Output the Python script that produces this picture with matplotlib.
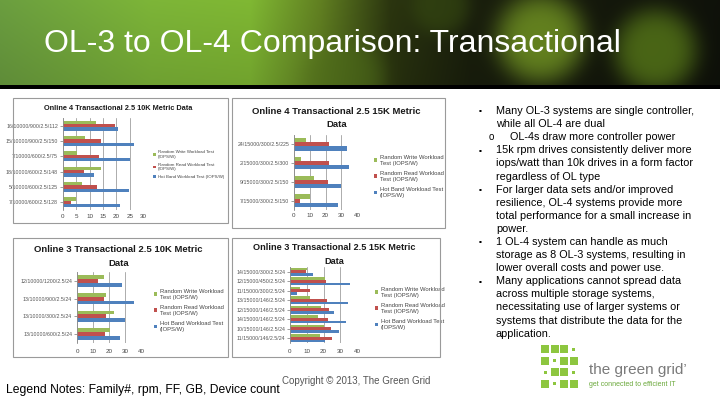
import numpy as np
import matplotlib.pyplot as plt
from matplotlib.patches import Rectangle

plt.rcParams['font.family'] = ['Liberation Sans', 'DejaVu Sans']

W, H = 720, 405

# series colours (Excel 2007 palette)
c_hot, c_read, c_write = '#4F81BD', '#C0504D', '#9BBB59'

# ---- data, categories listed top to bottom as on the slide ----
ol4_10k_cats = ['16/10000/900/2.5/112', '15/10000/900/2.5/150', '7/10000/600/2.5/75',
                '18/10000/600/2.5/148', '5/10000/600/2.5/125', '7/10000/600/2.5/128']
ol4_10k_hot = [20.6, 26.5, 25.3, 11.5, 24.6, 21.5]
ol4_10k_read = [19.4, 14.4, 13.5, 7.8, 12.9, 2.9]
ol4_10k_write = [12.3, 8.1, 5.4, 14.4, 7.0, 5.0]

ol4_15k_cats = ['24/15000/300/2.5/225', '2/15000/300/2.5/300',
                '9/15000/300/2.5/150', '7/15000/300/2.5/150']
ol4_15k_hot = [33.4, 35.1, 29.8, 28.1]
ol4_15k_read = [22.3, 22.3, 21.9, 4.0]
ol4_15k_write = [7.4, 4.7, 13.0, 10.4]

ol3_10k_cats = ['12/10000/1200/2.5/24', '13/10000/900/2.5/24',
                '13/10000/300/2.5/24', '13/10000/600/2.5/24']
ol3_10k_hot = [28.3, 35.8, 30.2, 27.0]
ol3_10k_read = [12.9, 16.7, 17.9, 17.5]
ol3_10k_write = [16.7, 18.3, 23.3, 20.8]

ol3_15k_cats = ['14/15000/300/2.5/24', '12/15000/450/2.5/24', '11/15000/300/2.5/24',
                '13/15000/146/2.5/24', '12/15000/146/2.5/24', '14/15000/146/2.5/24',
                '10/15000/146/2.5/24', '11/15000/146/2.5/24']
ol3_15k_hot = [14.0, 36.0, 4.0, 34.6, 26.0, 33.4, 29.0, 20.6]
ol3_15k_read = [9.6, 21.4, 12.0, 22.0, 23.2, 22.4, 24.4, 25.2]
ol3_15k_write = [10.4, 21.0, 6.0, 12.0, 18.4, 16.6, 20.0, 18.0]

t1 = ['Online 4 Transactional 2.5 10K Metric Data']
t2 = ['Online 4 Transactional 2.5 15K Metric', 'Data']
t3 = ['Online 3 Transactional 2.5 10K Metric', 'Data']
t4 = ['Online 3 Transactional 2.5 15K Metric', 'Data']

lab_a = ['Random Write Workload Test\n(IOPS/W)', 'Random Read Workload Test\n(IOPS/W)',
         'Hot Band Workload Test (IOPS/W)']
lab_b = ['Random Write Workload\nTest (IOPS/W)', 'Random Read Workload\nTest (IOPS/W)',
         'Hot Band Workload Test\n(IOPS/W)']

bullet_lines = [
    ('b', 'Many OL-3 systems are single controller,'),
    ('', 'while all OL-4 are dual'),
    ('o', 'OL-4s draw more controller power'),
    ('b', '15k rpm drives consistently deliver more'),
    ('', 'iops/watt than 10k drives in a form factor'),
    ('', 'regardless of OL type'),
    ('b', 'For larger data sets and/or improved'),
    ('', 'resilience, OL-4 systems provide more'),
    ('', 'total performance for a small increase in'),
    ('', 'power.'),
    ('b', '1 OL-4 system can handle as much'),
    ('', 'storage as 8 OL-3 systems, resulting in'),
    ('', 'lower overall costs and power use.'),
    ('b', 'Many applications cannot spread data'),
    ('', 'across multiple storage systems,'),
    ('', 'necessitating use of larger systems or'),
    ('', 'systems that distribute the data for the'),
    ('', 'application.'),
]


def fx(x):
    return x / W


def fy(y):
    return 1 - y / H


fig = plt.figure(figsize=(7.2, 4.05), dpi=100)
fig.patch.set_facecolor('white')

# ---- header banner (decorative gradient with soft bokeh blobs) ----
hh = 89
xs = np.arange(W)
ys = np.arange(hh)[:, None]
stops = [0, 150, 250, 320, 390, 470, 720]
rs = [0.42, 0.49, 0.50, 0.38, 0.17, 0.10, 0.06]
gs = [0.62, 0.71, 0.72, 0.50, 0.21, 0.12, 0.07]
bs = [0.25, 0.22, 0.20, 0.13, 0.06, 0.05, 0.04]
img = np.zeros((hh, W, 3))
img[:, :, 0] = np.interp(xs, stops, rs)
img[:, :, 1] = np.interp(xs, stops, gs)
img[:, :, 2] = np.interp(xs, stops, bs)
img = img * (1 - 0.12 * (ys / hh))[:, :, None]
for cx, cy, r, col, k in [(540, 38, 45, (0.46, 0.60, 0.14), 0.8),
                          (655, 50, 42, (0.36, 0.50, 0.10), 0.75),
                          (440, 5, 30, (0.22, 0.30, 0.07), 0.6),
                          (345, 78, 40, (0.30, 0.42, 0.10), 0.6)]:
    d = np.sqrt((xs[None, :] - cx) ** 2 + (ys - cy) ** 2) / r
    a = np.exp(-(d ** 4))[:, :, None] * k
    img = img * (1 - a) + np.array(col) * a
img[85:, :, :] = 0
hax = fig.add_axes([0, fy(hh), 1, hh / H])
hax.imshow(img, aspect='auto', interpolation='bilinear')
hax.axis('off')
fig.text(fx(44), fy(44), 'OL-3 to OL-4 Comparison: Transactional', color='white',
         fontsize=23, va='center', ha='left')


def chart(box, plot, titles, title_ys, title_size, cats, hot, read, write, xmax,
          xstep, labels, leg_xy, leg_size, bar_h, tick_pad):
    x0, y0, x1, y1 = box
    fig.add_artist(Rectangle((fx(x0), fy(y1)), (x1 - x0) / W, (y1 - y0) / H,
                             transform=fig.transFigure, fill=False,
                             ec='#9a9a9a', lw=0.8))
    px0, py0, px1, py1 = plot
    ax = fig.add_axes([fx(px0), fy(py1), (px1 - px0) / W, (py1 - py0) / H])
    n = len(cats)
    pos = np.arange(n)[::-1]
    bh = ax.barh(pos - bar_h, hot, height=bar_h, color=c_hot)
    br = ax.barh(pos, read, height=bar_h, color=c_read)
    bw = ax.barh(pos + bar_h, write, height=bar_h, color=c_write)
    ax.set_ylim(-0.5, n - 0.5)
    ax.set_xlim(0, xmax)
    ax.set_xticks(np.arange(0, xmax + 1, xstep))
    ax.set_yticks(pos)
    ax.set_yticklabels(cats)
    ax.xaxis.grid(True, color='#8c8c8c', lw=0.5)
    ax.set_axisbelow(True)
    for s in ['top', 'right', 'bottom']:
        ax.spines[s].set_visible(False)
    ax.spines['left'].set_color('#8c8c8c')
    ax.spines['left'].set_linewidth(0.6)
    ax.tick_params(axis='x', labelsize=4.5, length=0, pad=tick_pad, colors='#444444')
    ax.tick_params(axis='y', labelsize=3.8, length=2, width=0.4, pad=1.5,
                   colors='#555555')
    for t, ty in zip(titles, title_ys):
        fig.text(fx((x0 + x1) / 2 - 2), fy(ty), t, fontsize=title_size,
                 fontweight='bold', ha='center', va='center', color='#1a1a1a')
    ax.legend([bw, br, bh], labels, loc='upper left',
              bbox_to_anchor=(fx(leg_xy[0]), fy(leg_xy[1])),
              bbox_transform=fig.transFigure, frameon=False, fontsize=leg_size,
              handlelength=0.6, handleheight=0.6, handletextpad=0.4,
              labelspacing=0.9, borderpad=0, labelcolor='#444444')
    return ax


chart((13, 98, 228, 223), (63, 118, 143, 210), t1, [108], 5.3,
      ol4_10k_cats, ol4_10k_hot, ol4_10k_read, ol4_10k_write, 30, 5,
      lab_a, (151, 148), 3.2, 0.22, 3)
chart((232, 98, 445, 228), (294, 135, 357, 210), t2, [111, 124], 6.8,
      ol4_15k_cats, ol4_15k_hot, ol4_15k_read, ol4_15k_write, 40, 10,
      lab_b, (371, 152), 4.2, 0.22, 2)
chart((13, 238, 228, 357), (77, 272, 141, 343), t3, [250, 263], 6.8,
      ol3_10k_cats, ol3_10k_hot, ol3_10k_read, ol3_10k_write, 40, 10,
      lab_b, (151, 286), 4.2, 0.22, 4)
chart((232, 238, 440, 357), (290, 267, 357, 343), t4, [248, 261], 6.6,
      ol3_15k_cats, ol3_15k_hot, ol3_15k_read, ol3_15k_write, 40, 10,
      lab_b, (372, 284), 4.2, 0.27, 4)

# ---- right hand bullet text ----
for i, (kind, line) in enumerate(bullet_lines):
    y = 111 + i * 13.1
    if kind == 'b':
        fig.text(fx(480), fy(y), '\u25aa', fontsize=6, va='center', ha='center')
        fig.text(fx(496), fy(y), line, fontsize=7.8, va='center')
    elif kind == 'o':
        fig.text(fx(491), fy(y), 'o', fontsize=7, va='center', ha='center')
        fig.text(fx(510), fy(y), line, fontsize=7.8, va='center')
    else:
        fig.text(fx(496), fy(y), line, fontsize=7.8, va='center')

# ---- footer ----
fig.text(fx(6), fy(390), 'Legend Notes: Family#, rpm, FF, GB, Device count',
         fontsize=8.7, va='center')
fig.text(fx(282), fy(381), 'Copyright \u00a9 2013, The Green Grid', fontsize=7,
         va='center', color='#555555')

# green grid logo
logo = ['sss.', 's.ss', '.ss.', 's.ss']
for r, row in enumerate(logo):
    for c, ch in enumerate(row):
        cx = 541 + c * 9.5
        cy = 345 + r * 11.5
        if ch == 's':
            fig.add_artist(Rectangle((fx(cx), fy(cy + 8)), 8 / W, 8 / H,
                                     transform=fig.transFigure, color='#8dc63f', lw=0))
        else:
            fig.add_artist(Rectangle((fx(cx + 2.5), fy(cy + 5.5)), 3 / W, 3 / H,
                                     transform=fig.transFigure, color='#8dc63f', lw=0))
fig.text(fx(589), fy(370), 'the green grid\u2019', fontsize=11, color='#7a7a7a',
         va='center')
fig.text(fx(589), fy(385), 'get connected to efficient IT', fontsize=5,
         color='#6aa83a', va='center')

fig.savefig('out.png', dpi=100, facecolor='white')
